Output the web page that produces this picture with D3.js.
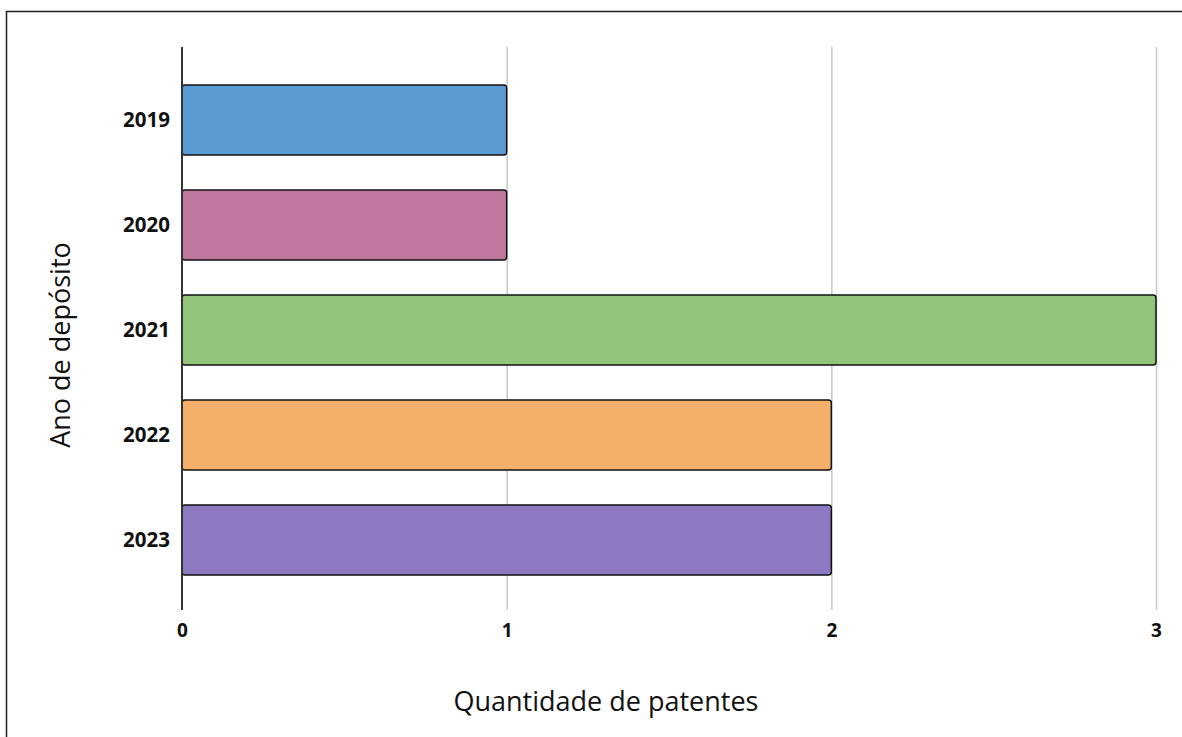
<!DOCTYPE html>
<html><head><meta charset="utf-8">
<script src="https://cdn.jsdelivr.net/npm/d3@7"></script>
<style>html,body{margin:0;padding:0;background:#fff;}svg{display:block;}</style>
</head><body>
<svg id="c" width="1182" height="737"></svg>
<script>
const years = ["2019","2020","2021","2022","2023"];
const counts = [1,1,3,2,2];
const colors = ["#5B9BD3","#BE789E","#92C47C","#F4B06A","#8E7AC2"];
const xTicks = [0,1,2,3];

const svg = d3.select("#c");
const W = 1182, H = 737;
const font = "'Open Sans', sans-serif";

// frame
svg.append("rect").attr("x",6.5).attr("y",11.5).attr("width",W).attr("height",H)
  .attr("fill","none").attr("stroke","#222").attr("stroke-width",1.5);

const x = d3.scaleLinear().domain([0,3]).range([182,1156]);
const y = d3.scaleBand().domain(years).range([50,610]).paddingInner(1/3).paddingOuter(1/3);

// gridlines
svg.append("g").selectAll("line").data(xTicks.filter(d=>d>0)).join("line")
  .attr("x1",d=>x(d)+0.5).attr("x2",d=>x(d)+0.5).attr("y1",47).attr("y2",610)
  .attr("stroke","#c8c8c8").attr("stroke-width",1.5);

// bars
svg.append("g").selectAll("rect").data(years).join("rect")
  .attr("x",x(0)).attr("y",(d)=>y(d))
  .attr("width",(d,i)=>x(counts[i])-x(0)).attr("height",y.bandwidth())
  .attr("rx",3).attr("ry",3)
  .attr("fill",(d,i)=>colors[i]).attr("stroke","#111").attr("stroke-width",1.5);

// y axis line
svg.append("line").attr("x1",x(0)).attr("x2",x(0)).attr("y1",47).attr("y2",610)
  .attr("stroke","#333").attr("stroke-width",2);

// x axis
const xAxis = svg.append("g").attr("transform","translate(0,610)")
  .call(d3.axisBottom(x).tickValues(xTicks).tickFormat(d3.format("d")).tickSize(0).tickPadding(14));
xAxis.select(".domain").remove();
xAxis.selectAll("text").attr("font-family",font).attr("font-size",19).attr("font-weight","bold").attr("fill","#111");

// y axis labels
const yAxis = svg.append("g").attr("transform",`translate(${x(0)},0)`)
  .call(d3.axisLeft(y).tickSize(0).tickPadding(12));
yAxis.select(".domain").remove();
yAxis.selectAll("text").attr("font-family",font).attr("font-size",20.5).attr("font-weight","bold").attr("fill","#111");

// titles
svg.append("text").attr("x",606).attr("y",711).attr("text-anchor","middle")
  .attr("font-family",font).attr("font-size",27).attr("fill","#111").text("Quantidade de patentes");
svg.append("text").attr("transform","translate(70,345) rotate(-90)").attr("text-anchor","middle")
  .attr("font-family",font).attr("font-size",27).attr("fill","#111").text("Ano de depósito");
</script>
</body></html>
